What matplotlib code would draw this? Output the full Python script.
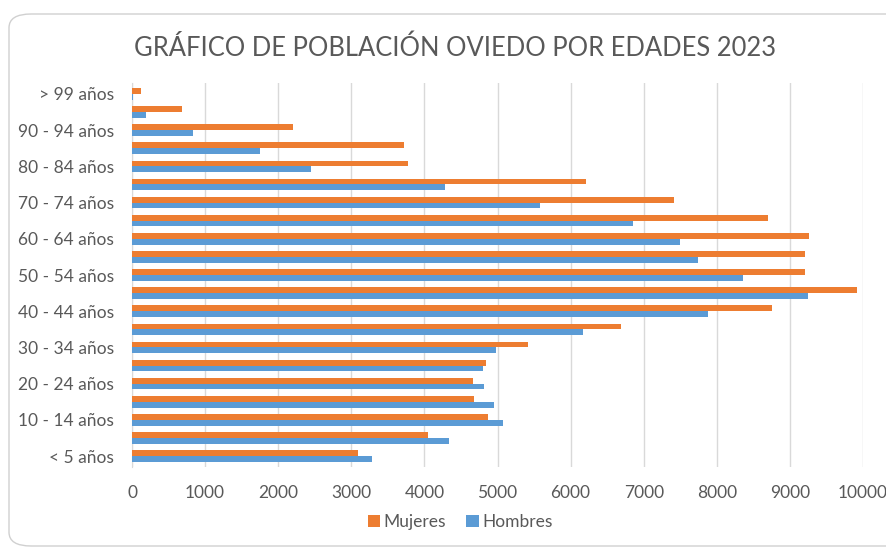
import matplotlib.pyplot as plt
import numpy as np
from matplotlib.patches import FancyBboxPatch

plt.rcParams["font.family"] = ["Lato", "DejaVu Sans"]

age_groups = [
    "< 5 años", "5 - 9 años", "10 - 14 años", "15 - 19 años", "20 - 24 años",
    "25 - 29 años", "30 - 34 años", "35 - 39 años", "40 - 44 años", "45 - 49 años",
    "50 - 54 años", "55 - 59 años", "60 - 64 años", "65 - 69 años", "70 - 74 años",
    "75 - 79 años", "80 - 84 años", "85 - 89 años", "90 - 94 años", "95 - 99 años",
    "> 99 años",
]
mujeres = [3090, 4050, 4870, 4680, 4665, 4840, 5420, 6685, 8750, 9920,
           9200, 9205, 9265, 8695, 7410, 6205, 3780, 3715, 2205, 680, 120]
hombres = [3290, 4340, 5075, 4950, 4815, 4800, 4980, 6170, 7885, 9250,
           8360, 7740, 7495, 6850, 5580, 4275, 2450, 1755, 840, 195, 20]
x_ticks = list(range(0, 10001, 1000))

orange = "#ED7D31"
blue = "#5B9BD5"
text_grey = "#595959"

fig = plt.figure(figsize=(8.86, 5.5), dpi=100)
ax = fig.add_axes([132 / 886, 1 - 467 / 550, (863 - 132) / 886, (467 - 83) / 550])

# chart border with rounded corners
frame = FancyBboxPatch((9 / 886, 4 / 550), 1.2, 532 / 550,
                       boxstyle="round,pad=0,rounding_size=0.025",
                       transform=fig.transFigure, fill=False,
                       edgecolor="#d0d0d0", lw=1.0, zorder=0)
fig.patches.append(frame)

y = np.arange(len(age_groups))
h = 0.32
ax.barh(y + h / 2, mujeres, height=h, color=orange, label="Mujeres", zorder=3)
ax.barh(y - h / 2, hombres, height=h, color=blue, label="Hombres", zorder=3)

ax.set_xlim(0, 10000)
ax.set_ylim(-0.6, len(age_groups) - 0.4)
ax.set_xticks(x_ticks)
ax.set_xticklabels([str(v) for v in x_ticks], fontsize=12.5, color=text_grey)
ax.set_yticks(y[::2])
ax.set_yticklabels(age_groups[::2], fontsize=12.5, color=text_grey)
ax.tick_params(length=0)
ax.tick_params(axis="y", pad=13)
ax.tick_params(axis="x", pad=13)
ax.grid(axis="x", color="#d9d9d9", lw=1.0, zorder=0)
for side in ["top", "right", "bottom"]:
    ax.spines[side].set_visible(False)
ax.spines["left"].set_color("#d9d9d9")

fig.text(455 / 886, 1 - 48 / 550, "GRÁFICO DE POBLACIÓN OVIEDO POR EDADES 2023",
         ha="center", va="center", fontsize=18.4, color=text_grey)

fig.legend(loc="center", bbox_to_anchor=(460 / 886, 1 - 522 / 550), ncol=2,
           frameon=False, fontsize=12.5, labelcolor=text_grey, handlelength=0.7,
           handleheight=0.7, handletextpad=0.2, columnspacing=1.2)

fig.savefig("out.png", dpi=100)
